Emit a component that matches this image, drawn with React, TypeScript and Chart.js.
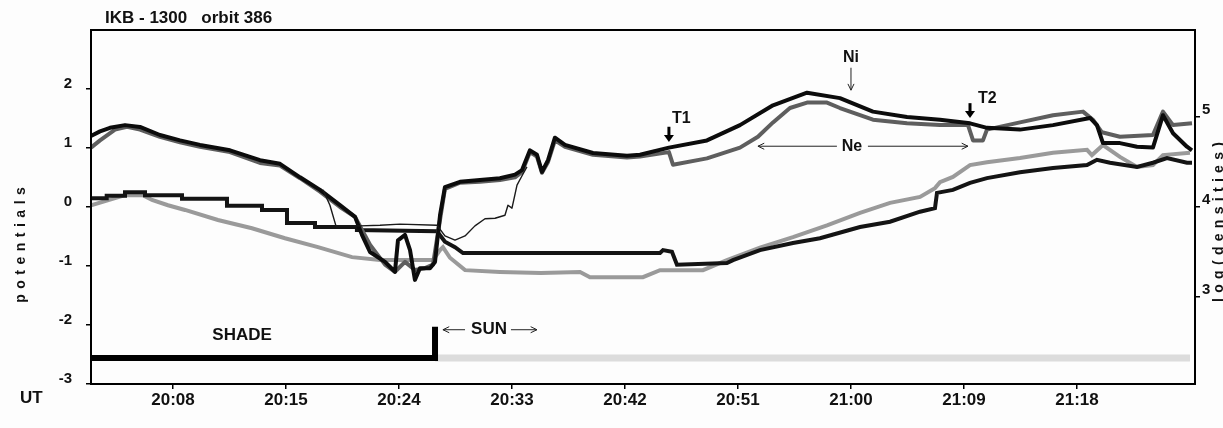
import React, { useEffect, useRef } from 'react';
import { Chart, registerables } from 'chart.js';

Chart.register(...registerables);

const FONT = '"Liberation Sans", Arial, Helvetica, sans-serif';

// ---- axes ----
const TIME_MIN = -0.53;
const TIME_MAX = 87.4;
const TIME_TICKS = [6, 15, 24, 33, 42, 51, 60, 69, 78];
const TIME_LABELS = ['20:08', '20:15', '20:24', '20:33', '20:42', '20:51', '21:00', '21:09', '21:18'];
const POT_MIN = -3;
const POT_MAX = 3;
const POT_TICKS = [-3, -2, -1, 0, 1, 2];
const DENS_MIN = 2.033;
const DENS_MAX = 5.967;
const DENS_TICKS = [3, 4, 5];

// ---- series: [time (min), value] ----
// Ni (log density, right axis)
const NI: [number, number][] = [
  [-0.53, 4.79], [0.19, 4.84], [0.98, 4.88], [2.18, 4.91], [3.37, 4.89], [4.96, 4.8], [6.56, 4.74],
  [8.15, 4.69], [10.54, 4.63], [12.93, 4.52], [14.52, 4.48], [16.12, 4.33], [17.71, 4.19], [19.3, 4.02],
  [20.5, 3.89], [21.05, 3.69], [21.69, 3.5], [22.89, 3.39], [23.68, 3.28], [23.92, 3.63], [24.48, 3.69],
  [24.88, 3.52], [25.27, 3.19], [25.67, 3.32], [26.47, 3.32], [26.87, 3.39], [27.27, 3.91], [27.66, 4.22],
  [28.86, 4.28], [30.45, 4.3], [32.04, 4.32], [33.24, 4.36], [33.8, 4.41], [34.43, 4.63], [34.99, 4.58],
  [35.39, 4.39], [35.87, 4.52], [36.42, 4.77], [37.22, 4.69], [39.45, 4.6], [42.16, 4.57], [43.2, 4.58],
  [45.5, 4.66], [48.53, 4.74], [51.16, 4.91], [53.79, 5.13], [56.5, 5.27], [59.12, 5.21], [61.75, 5.06],
  [64.46, 5.0], [67.09, 4.97], [69.48, 4.93], [70.83, 4.88], [73.46, 4.86], [76.09, 4.91], [79.04, 4.99],
  [79.59, 4.91], [80.07, 4.71], [81.42, 4.71], [82.78, 4.67], [84.05, 4.66], [84.85, 5.02], [85.65, 4.82],
  [86.76, 4.67], [87.16, 4.63],
];

// Ne (log density, right axis)
const NE: [number, number][] = [
  [-0.53, 4.66], [0.19, 4.74], [1.38, 4.86], [2.34, 4.89], [3.37, 4.86], [4.96, 4.78], [6.56, 4.72],
  [8.15, 4.67], [10.54, 4.61], [12.93, 4.49], [14.52, 4.46], [16.12, 4.32], [17.71, 4.17], [19.3, 4.0],
  [20.5, 3.89], [21.69, 3.58], [22.89, 3.36], [23.68, 3.28], [24.48, 3.39], [25.27, 3.3], [26.07, 3.32],
  [26.71, 3.36], [27.27, 3.86], [27.66, 4.2], [28.86, 4.27], [30.45, 4.28], [32.04, 4.3], [33.24, 4.33],
  [33.8, 4.39], [34.43, 4.61], [34.99, 4.56], [35.39, 4.38], [35.87, 4.5], [36.42, 4.74], [37.22, 4.67],
  [39.45, 4.58], [42.16, 4.55], [43.2, 4.56], [45.5, 4.61], [45.82, 4.47], [48.53, 4.54], [51.16, 4.66],
  [52.59, 4.78], [53.79, 4.94], [55.14, 5.1], [56.5, 5.16], [58.09, 5.16], [59.12, 5.1], [61.75, 4.97],
  [64.46, 4.93], [67.09, 4.91], [69.32, 4.91], [69.72, 4.74], [70.51, 4.74], [70.83, 4.86], [73.46, 4.94],
  [76.09, 5.02], [78.48, 5.06], [79.27, 4.97], [79.99, 4.83], [81.42, 4.78], [84.05, 4.8], [84.85, 5.06],
  [85.65, 4.91], [87.16, 4.93],
];

// thin trace (potentials, left axis)
const THIN: [number, number][] = [
  [17.95, 0.29], [18.5, 0.03], [18.98, -0.32], [20.89, -0.32], [22.49, -0.31], [24.08, -0.29], [27.03, -0.31],
  [27.66, -0.49], [28.46, -0.56], [29.26, -0.49], [30.05, -0.32], [30.85, -0.2], [31.65, -0.19], [32.44, -0.14],
  [32.68, 0.03], [33.0, -0.02], [33.4, 0.37], [33.8, 0.53], [34.19, 0.68],
];

// black stepped potential (left axis)
const POT_BLACK: [number, number][] = [
  [-0.53, 0.15], [0.72, 0.15], [0.72, 0.19], [2.18, 0.19], [2.18, 0.25], [3.77, 0.25], [3.77, 0.2],
  [6.72, 0.2], [6.72, 0.14], [10.3, 0.14], [10.3, 0.02], [13.09, 0.02], [13.09, -0.05], [15.08, -0.05],
  [15.08, -0.27], [17.31, -0.27], [17.31, -0.34], [20.65, -0.34], [20.65, -0.39], [27.03, -0.41],
  [27.66, -0.59], [28.46, -0.68], [29.1, -0.78], [44.79, -0.78], [45.03, -0.73], [45.74, -0.76],
  [46.14, -0.98], [50.12, -0.95], [50.6, -0.9], [52.75, -0.73], [55.38, -0.61], [57.53, -0.53],
  [60.72, -0.34], [63.11, -0.25], [65.5, -0.08], [66.69, -0.02], [66.85, 0.24], [68.12, 0.29],
  [69.48, 0.41], [70.83, 0.49], [73.46, 0.59], [76.09, 0.66], [78.8, 0.71], [79.59, 0.8], [80.63, 0.75],
  [82.78, 0.68], [84.05, 0.75], [85.17, 0.83], [86.76, 0.75], [87.16, 0.75],
];

// light grey potential (left axis)
const POT_GREY: [number, number][] = [
  [-0.53, 0.03], [2.18, 0.2], [3.61, 0.2], [4.33, 0.12], [5.6, 0.03], [6.96, -0.05], [9.58, -0.22],
  [12.29, -0.36], [14.92, -0.53], [17.55, -0.68], [20.26, -0.85], [22.49, -0.9], [26.71, -0.9],
  [27.27, -0.73], [27.5, -0.68], [28.06, -0.86], [29.26, -1.07], [32.04, -1.1], [35.31, -1.12],
  [38.42, -1.1], [39.21, -1.19], [43.43, -1.19], [44.79, -1.07], [48.21, -1.07], [50.12, -0.9],
  [52.75, -0.69], [55.38, -0.51], [58.09, -0.31], [60.72, -0.1], [63.11, 0.07], [65.5, 0.17],
  [66.69, 0.32], [67.09, 0.42], [68.12, 0.51], [69.48, 0.71], [70.83, 0.76], [73.46, 0.83], [76.09, 0.92],
  [78.8, 0.97], [79.19, 0.88], [80.07, 1.05], [81.42, 0.85], [82.78, 0.68], [84.05, 0.71], [84.85, 0.88],
  [87.0, 0.92],
];

// shade / sun indicator (left axis)
const SHADE: [number, number][] = [[-0.53, -2.56], [26.87, -2.56], [26.87, -2.03]];
const SUN: [number, number][] = [[26.87, -2.56], [87.0, -2.56]];

// ---- annotations (data coordinates, left axis) ----
const NOTES = [
  { text: 'T1', t: 45.74, v: 1.49, align: 'left', size: 16 },
  { text: 'Ni', t: 60.0, v: 2.53, align: 'center', size: 16 },
  { text: 'T2', t: 70.11, v: 1.83, align: 'left', size: 16 },
  { text: 'Ne', t: 60.08, v: 1.03, align: 'center', size: 16 },
  { text: 'SHADE', t: 11.5, v: -2.17, align: 'center', size: 17 },
  { text: 'SUN', t: 31.17, v: -2.08, align: 'center', size: 17 },
];
const BOLD_ARROWS = [
  { t: 45.5, from: 1.36, to: 1.1 },
  { t: 69.48, from: 1.76, to: 1.51 },
];
const THIN_ARROWS = [
  { t0: 60.0, v0: 2.36, t1: 60.0, v1: 1.98 },
  { t0: 58.88, v0: 1.03, t1: 52.59, v1: 1.03 },
  { t0: 61.35, v0: 1.03, t1: 69.32, v1: 1.03 },
  { t0: 29.26, v0: -2.08, t1: 27.5, v1: -2.08 },
  { t0: 32.92, v0: -2.08, t1: 34.99, v1: -2.08 },
];

const toXY = (pts: [number, number][]) => pts.map(([x, y]) => ({ x, y }));

function spacedVertical(ctx: CanvasRenderingContext2D, text: string, x: number, cy: number, spacing: number, font: string) {
  ctx.save();
  ctx.font = font;
  const chars = Array.from(text);
  const widths = chars.map((c) => ctx.measureText(c).width);
  const total = widths.reduce((a, b) => a + b, 0) + spacing * (chars.length - 1);
  ctx.translate(x, cy);
  ctx.rotate(-Math.PI / 2);
  ctx.textAlign = 'left';
  ctx.textBaseline = 'alphabetic';
  let pos = -total / 2;
  chars.forEach((c, i) => {
    ctx.fillText(c, pos, 0);
    pos += widths[i] + spacing;
  });
  ctx.restore();
}

const decorPlugin = {
  id: 'decor',
  afterDraw(chart: any) {
    const { ctx, chartArea: a, scales } = chart;
    const xs = scales.x;
    const ys = scales.y;
    ctx.save();
    // frame
    ctx.strokeStyle = '#000';
    ctx.lineWidth = 2;
    ctx.strokeRect(a.left, a.top, a.right - a.left, a.bottom - a.top);

    ctx.fillStyle = '#111';
    // title
    ctx.font = `bold 17px ${FONT}`;
    ctx.textAlign = 'left';
    ctx.textBaseline = 'middle';
    ctx.fillText('IKB - 1300   orbit 386', 105, 18.5);
    // UT
    ctx.font = `bold 17px ${FONT}`;
    ctx.fillText('UT', 20, 398);
    // axis titles
    spacedVertical(ctx, 'potentials', 25, 245, 5.5, `bold 14px ${FONT}`);
    spacedVertical(ctx, 'log(densities)', 1223, 222, 5.3, `bold 14px ${FONT}`);

    // notes
    NOTES.forEach((n) => {
      ctx.font = `bold ${n.size}px ${FONT}`;
      ctx.textAlign = n.align as CanvasTextAlign;
      ctx.textBaseline = 'middle';
      ctx.fillText(n.text, xs.getPixelForValue(n.t), ys.getPixelForValue(n.v));
    });

    // bold arrows
    ctx.fillStyle = '#000';
    BOLD_ARROWS.forEach((b) => {
      const x = xs.getPixelForValue(b.t);
      const y0 = ys.getPixelForValue(b.from);
      const y1 = ys.getPixelForValue(b.to);
      const headH = 7;
      const headW = 5;
      ctx.fillRect(x - 1.5, y0, 3, y1 - y0 - headH + 1);
      ctx.beginPath();
      ctx.moveTo(x - headW, y1 - headH);
      ctx.lineTo(x + headW, y1 - headH);
      ctx.lineTo(x, y1);
      ctx.closePath();
      ctx.fill();
    });

    // thin arrows
    ctx.strokeStyle = '#222';
    ctx.lineWidth = 1;
    THIN_ARROWS.forEach((r) => {
      const x0 = xs.getPixelForValue(r.t0);
      const y0 = ys.getPixelForValue(r.v0);
      const x1 = xs.getPixelForValue(r.t1);
      const y1 = ys.getPixelForValue(r.v1);
      ctx.beginPath();
      ctx.moveTo(x0, y0);
      ctx.lineTo(x1, y1);
      ctx.stroke();
      const ang = Math.atan2(y1 - y0, x1 - x0);
      const h = 7;
      ctx.beginPath();
      ctx.moveTo(x1 - h * Math.cos(ang - 0.45), y1 - h * Math.sin(ang - 0.45));
      ctx.lineTo(x1, y1);
      ctx.lineTo(x1 - h * Math.cos(ang + 0.45), y1 - h * Math.sin(ang + 0.45));
      ctx.stroke();
    });
    ctx.restore();
  },
};

const line = (data: [number, number][], axis: string, color: string, width: number, order: number, join: CanvasLineJoin = 'round') => ({
  data: toXY(data),
  yAxisID: axis,
  borderColor: color,
  backgroundColor: color,
  borderWidth: width,
  pointRadius: 0,
  tension: 0,
  fill: false,
  order,
  borderJoinStyle: join,
  borderCapStyle: 'butt',
});

export default function App() {
  const ref = useRef<HTMLCanvasElement>(null);

  useEffect(() => {
    const tickFont = (size: number) => ({ family: FONT, size, weight: 'bold' as const });
    const chart = new Chart(ref.current as HTMLCanvasElement, {
      type: 'line',
      data: {
        datasets: [
          line(THIN, 'y', '#1a1a1a', 1.4, 0),
          line(NI, 'y2', '#0c0c0c', 4, 1),
          line(NE, 'y2', '#5e5e5e', 4, 2),
          line(POT_BLACK, 'y', '#141414', 4, 3, 'miter'),
          line(POT_GREY, 'y', '#9a9a9a', 4, 4, 'miter'),
          line(SHADE, 'y', '#000000', 6, 5, 'miter'),
          line(SUN, 'y', '#dcdcdc', 7, 6, 'miter'),
        ] as any,
      },
      options: {
        animation: false,
        responsive: false,
        devicePixelRatio: 1,
        layout: { padding: { top: 30, left: 0, right: 0, bottom: 0 }, autoPadding: false },
        plugins: { legend: { display: false }, tooltip: { enabled: false } },
        events: [],
        scales: {
          x: {
            type: 'linear',
            min: TIME_MIN,
            max: TIME_MAX,
            afterBuildTicks: (s: any) => { s.ticks = TIME_TICKS.map((v) => ({ value: v })); },
            afterFit: (s: any) => { s.height = 44; },
            border: { display: false },
            grid: { display: true, drawOnChartArea: false, drawTicks: true, tickLength: 5, color: '#000', lineWidth: 1.5 },
            ticks: {
              callback: (_v: any, i: number) => TIME_LABELS[i],
              font: tickFont(17),
              color: '#111',
              padding: 1,
              maxRotation: 0,
              autoSkip: false,
            },
          },
          y: {
            type: 'linear',
            position: 'left',
            min: POT_MIN,
            max: POT_MAX,
            afterBuildTicks: (s: any) => { s.ticks = POT_TICKS.map((v) => ({ value: v })); },
            afterFit: (s: any) => { s.width = 91; },
            border: { display: false },
            grid: { display: true, drawOnChartArea: false, drawTicks: true, tickLength: 5, color: '#000', lineWidth: 1.5 },
            ticks: { callback: (v: any) => String(v), font: tickFont(15), color: '#111', padding: 14, labelOffset: -5 },
          },
          y2: {
            type: 'linear',
            position: 'right',
            min: DENS_MIN,
            max: DENS_MAX,
            afterBuildTicks: (s: any) => { s.ticks = DENS_TICKS.map((v) => ({ value: v })); },
            afterFit: (s: any) => { s.width = 28; },
            border: { display: false },
            grid: { display: true, drawOnChartArea: false, drawTicks: true, tickLength: 5, color: '#000', lineWidth: 1.5 },
            ticks: { callback: (v: any) => String(v), font: tickFont(15), color: '#111', padding: 2, labelOffset: -7 },
          },
        },
      } as any,
      plugins: [decorPlugin],
    });
    return () => chart.destroy();
  }, []);

  return (
    <div style={{ position: 'absolute', left: 0, top: 0, width: 1223, height: 428, background: '#fdfdfd', overflow: 'hidden' }}>
      <canvas ref={ref} width={1223} height={428} style={{ display: 'block', width: 1223, height: 428 }} />
    </div>
  );
}
